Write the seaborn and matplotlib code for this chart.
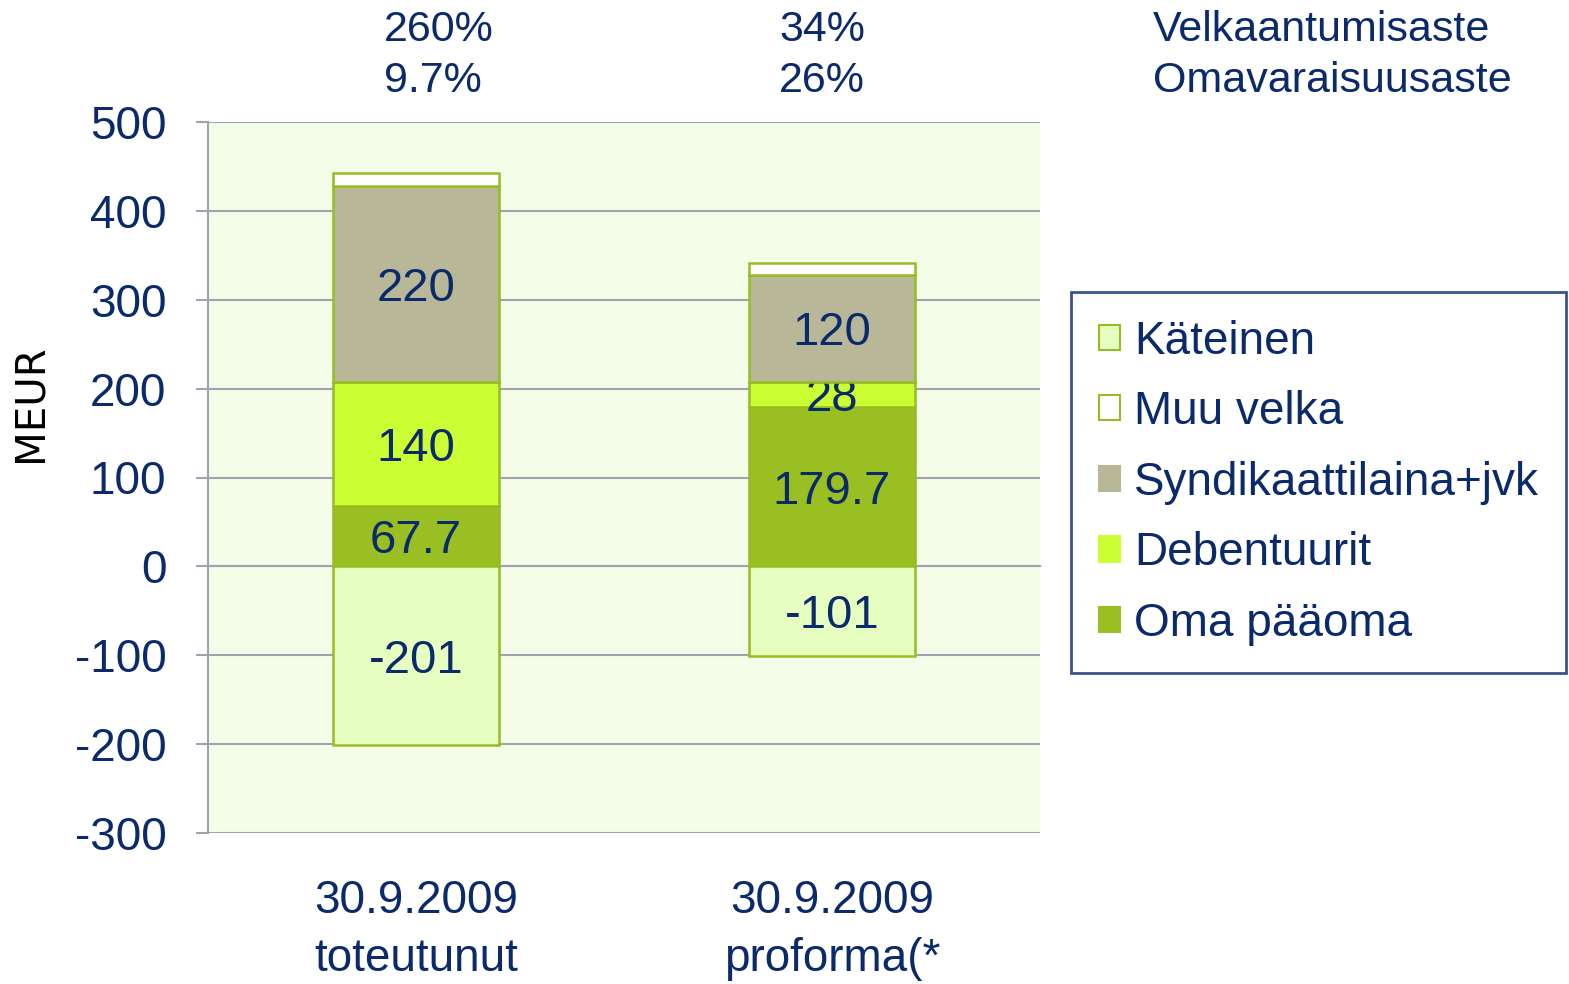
import numpy as np
import pandas as pd
import matplotlib
matplotlib.use('Agg')
import matplotlib.pyplot as plt
import matplotlib.transforms as mtransforms
from matplotlib.patches import Patch
import seaborn as sns

# data
categories = ['30.9.2009\ntoteutunut', '30.9.2009\nproforma(*']
oma_paaoma = [67.7, 179.7]
debentuurit = [140, 28]
syndikaatti = [220, 120]
muu_velka = [15, 14]
kateinen = [-201, -101]
velkaantumisaste = ['260%', '34%']
omavaraisuusaste = ['9.7%', '26%']

navy = '#0B2A6B'
edge = '#99BB22'
grid_c = '#A0A2B0'
colors = {
    'Käteinen': '#E6FEBF',
    'Muu velka': '#FFFFFF',
    'Syndikaattilaina+jvk': '#B8B898',
    'Debentuurit': '#CCFF33',
    'Oma pääoma': '#99BF22',
}

sns.set_style('white')
plt.rcParams['font.family'] = ['Liberation Sans', 'DejaVu Sans']
plt.rcParams['axes.unicode_minus'] = False

W, H = 1569, 984
fig = plt.figure(figsize=(W / 100, H / 100), dpi=100)
ax = fig.add_axes([208 / W, 1 - 833 / H, 832 / W, 711 / H])
ax.set_facecolor('#F4FDE8')


def label_segments(vals):
    texts = ax.bar_label(ax.containers[-1], labels=[f'{v:g}' for v in vals],
                         label_type='center', fontsize=34, color=navy)
    for t in texts:
        t.set_va('center_baseline')


stack = [('Oma pääoma', oma_paaoma),
         ('Debentuurit', debentuurit),
         ('Syndikaattilaina+jvk', syndikaatti),
         ('Muu velka', muu_velka)]

bottom = np.zeros(len(categories))
for name, vals in stack:
    sns.barplot(x=categories, y=vals, bottom=bottom, color=colors[name], width=0.4,
                edgecolor=edge, linewidth=1.8, saturation=1, ax=ax, zorder=3)
    if name != 'Muu velka':
        label_segments(vals)
    bottom = bottom + np.array(vals)

sns.barplot(x=categories, y=kateinen, color=colors['Käteinen'], width=0.4,
            edgecolor=edge, linewidth=1.8, saturation=1, ax=ax, zorder=3)
label_segments(kateinen)

ax.set_xlim(-0.5, 1.5)
ax.set_ylim(-300, 500)
ax.set_yticks(range(-300, 501, 100))
ax.yaxis.grid(True, color=grid_c, linewidth=1.5, zorder=1)
ax.set_axisbelow(True)
ax.tick_params(axis='y', length=9, width=1.5, color=grid_c, labelsize=33,
               labelcolor=navy, pad=21, left=True)

for s in ['top', 'right']:
    ax.spines[s].set_visible(False)
ax.spines['left'].set_color(grid_c)
ax.spines['left'].set_linewidth(1.5)
ax.spines['bottom'].set_position(('data', 0))
ax.spines['bottom'].set_color(grid_c)
ax.spines['bottom'].set_linewidth(1.5)

ax.set_xticks([0, 1])
ax.set_xticklabels([])
ax.tick_params(axis='x', which='major', length=0)
ax.set_xticks([0.5, 1.5], minor=True)
ax.tick_params(axis='x', which='minor', length=9, width=1.5, color=grid_c, direction='out')
ax.set_xlabel('')
ax.set_ylabel('')

trans = mtransforms.blended_transform_factory(ax.transData, fig.transFigure)
for i, c in enumerate(categories):
    ax.text(i, 1 - 930 / H, c, transform=trans, ha='center', va='center', fontsize=33,
            color=navy, linespacing=1.4)

fig.text(31 / W, 1 - 403 / H, 'MEUR', rotation=90, ha='center', va='center',
         fontsize=29, color='black', family='DejaVu Sans')

top_x = [(439, 433), (822, 822)]
for i in range(len(categories)):
    fig.text(top_x[i][0] / W, 1 - 30 / H, velkaantumisaste[i], ha='center', va='center',
             fontsize=31, color=navy)
    fig.text(top_x[i][1] / W, 1 - 81 / H, omavaraisuusaste[i], ha='center', va='center',
             fontsize=31, color=navy)
fig.text(1153 / W, 1 - 30 / H, 'Velkaantumisaste', ha='left', va='center', fontsize=31, color=navy)
fig.text(1153 / W, 1 - 81 / H, 'Omavaraisuusaste', ha='left', va='center', fontsize=31, color=navy)

order = ['Käteinen', 'Muu velka', 'Syndikaattilaina+jvk', 'Debentuurit', 'Oma pääoma']
handles = [Patch(facecolor=colors[n], edgecolor=edge if n in ('Käteinen', 'Muu velka') else colors[n],
                 linewidth=1.5) for n in order]
leg = fig.legend(handles, order, loc='upper left', bbox_to_anchor=(1071 / W, 1 - 292 / H),
                 fontsize=33, frameon=True, fancybox=False, handlelength=0.47, handleheight=0.47,
                 handletextpad=0.3, labelspacing=0.58, borderpad=0.6, borderaxespad=0)
leg.get_frame().set_edgecolor(navy)
leg.get_frame().set_linewidth(2)
for t in leg.get_texts():
    t.set_color(navy)

fig.savefig('out.png', dpi=100)
